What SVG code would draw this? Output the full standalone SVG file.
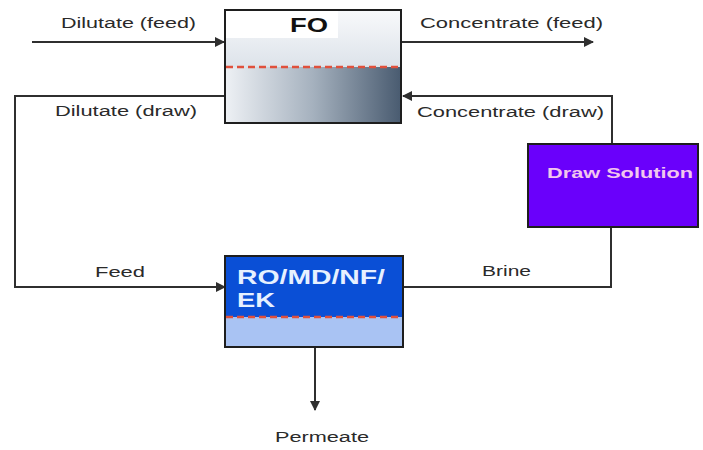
<svg xmlns="http://www.w3.org/2000/svg" width="703" height="450" viewBox="0 0 703 450">
  <defs>
    <style>
      .lbl { font-family: "Liberation Sans", Arial, sans-serif; font-size: 15.5px; fill: #2a2a2a; }
      .flow { fill: none; stroke: #2f2f2f; stroke-width: 2; }
      .box { stroke: #1e1e1e; stroke-width: 2; }
      .membrane { stroke: #e0503c; stroke-width: 2.5; stroke-dasharray: 7 4; }
      .title { font-family: "Liberation Sans", Arial, sans-serif; font-weight: bold; }
    </style>
    <marker id="arrow" viewBox="0 0 10 10" refX="9" refY="5" markerWidth="5" markerHeight="5" orient="auto" markerUnits="strokeWidth">
      <path d="M0,0 L10,5 L0,10 z" fill="#2f2f2f"/>
    </marker>
    <linearGradient id="foTop" x1="0" y1="0" x2="0" y2="1">
      <stop offset="0" stop-color="#f8f9fb"/>
      <stop offset="1" stop-color="#dde3ea"/>
    </linearGradient>
    <linearGradient id="foBottom" x1="0" y1="0" x2="1" y2="0">
      <stop offset="0" stop-color="#eef1f5"/>
      <stop offset="0.5" stop-color="#a5b1be"/>
      <stop offset="1" stop-color="#495b70"/>
    </linearGradient>
  </defs>

  <rect width="703" height="450" fill="#ffffff"/>

  <!-- connectors -->
  <g id="connectors">
    <line class="flow" x1="32" y1="42" x2="224" y2="42" marker-end="url(#arrow)"/>
    <line class="flow" x1="402" y1="42" x2="593" y2="42" marker-end="url(#arrow)"/>
    <polyline class="flow" points="225,96 15,96 15,287 225,287" marker-end="url(#arrow)"/>
    <polyline class="flow" points="612,144 612,96 403,96" marker-end="url(#arrow)"/>
    <polyline class="flow" points="403,287 611,287 611,227"/>
    <line class="flow" x1="315" y1="347" x2="315" y2="410" marker-end="url(#arrow)"/>

    <text class="lbl" x="61" y="28" textLength="135" lengthAdjust="spacingAndGlyphs">Dilutate (feed)</text>
    <text class="lbl" x="420" y="28" textLength="183" lengthAdjust="spacingAndGlyphs">Concentrate (feed)</text>
    <text class="lbl" x="55" y="116" textLength="142" lengthAdjust="spacingAndGlyphs">Dilutate (draw)</text>
    <text class="lbl" x="417" y="117" textLength="187" lengthAdjust="spacingAndGlyphs">Concentrate (draw)</text>
    <text class="lbl" x="95" y="277" textLength="50" lengthAdjust="spacingAndGlyphs">Feed</text>
    <text class="lbl" x="482" y="276" textLength="49" lengthAdjust="spacingAndGlyphs">Brine</text>
    <text class="lbl" x="275" y="442" textLength="94" lengthAdjust="spacingAndGlyphs">Permeate</text>
  </g>

  <!-- forward osmosis unit -->
  <g id="fo">
    <rect x="225" y="10" width="176" height="57" fill="url(#foTop)"/>
    <rect x="225" y="67" width="176" height="56" fill="url(#foBottom)"/>
    <rect x="226" y="11" width="112" height="27" fill="#ffffff"/>
    <line class="membrane" x1="226" y1="67" x2="400" y2="67"/>
    <rect class="box" x="225" y="10" width="176" height="113" fill="none"/>
    <text class="title" x="290" y="32" font-size="21" fill="#111111" textLength="38" lengthAdjust="spacingAndGlyphs">FO</text>
  </g>

  <!-- draw solution reservoir -->
  <g id="draw-solution">
    <rect class="box" x="528" y="144" width="170" height="83" fill="#6a00fb" stroke-width="1.5"/>
    <text class="title" x="547" y="178" font-size="14" fill="#f2c6ee" textLength="146" lengthAdjust="spacingAndGlyphs">Draw Solution</text>
  </g>

  <!-- regeneration unit -->
  <g id="regeneration">
    <rect x="225" y="256" width="178" height="61" fill="#0a4fd6"/>
    <rect x="225" y="317" width="178" height="30" fill="#a9c3f3"/>
    <line class="membrane" x1="226" y1="317" x2="402" y2="317" stroke="#c0392b"/>
    <rect class="box" x="225" y="256" width="178" height="91" fill="none"/>
    <text class="title" font-size="20" fill="#e6f0ff">
      <tspan x="237" y="284" textLength="148" lengthAdjust="spacingAndGlyphs">RO/MD/NF/</tspan>
      <tspan x="237" y="307" textLength="38" lengthAdjust="spacingAndGlyphs">EK</tspan>
    </text>
  </g>
</svg>
